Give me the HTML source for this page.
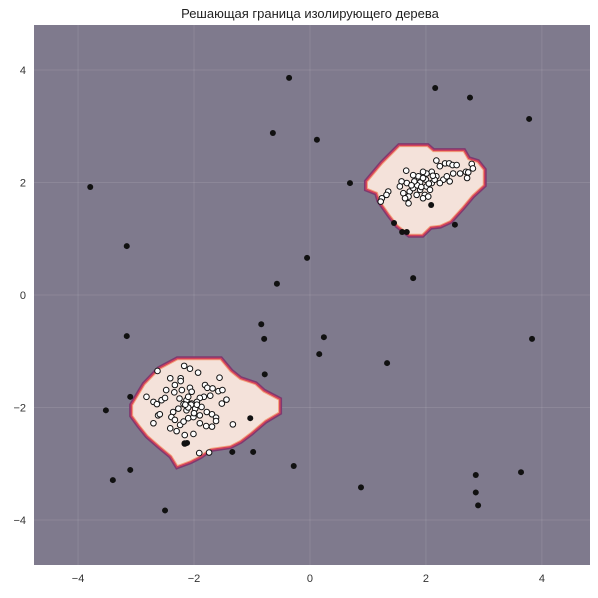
<!DOCTYPE html>
<html><head><meta charset="utf-8"><style>
body{margin:0;background:#fff;}
svg text{font-family:"Liberation Sans","DejaVu Sans",sans-serif;}
</style></head><body>
<svg id="chart" width="598" height="593">
<text x="310" y="18" text-anchor="middle" font-size="13" fill="#222">Решающая граница изолирующего дерева</text>
<g id="plot"></g>
</svg>
<script>
const xTicks=[-4,-2,0,2,4];
const yTicks=[-4,-2,0,2,4];
const regionUpper=[[1.00,2.01],[1.26,2.33],[1.55,2.63],[2.02,2.63],[2.12,2.54],[2.64,2.54],[2.72,2.40],[2.88,2.35],[2.98,2.22],[2.98,1.96],[2.79,1.78],[2.62,1.57],[2.41,1.33],[2.24,1.25],[2.07,1.23],[1.93,1.09],[1.72,1.09],[1.52,1.25],[1.38,1.44],[1.21,1.69],[1.17,1.83],[1.00,1.90]];
const regionLower=[[-3.05,-1.96],[-2.84,-1.60],[-2.59,-1.33],[-2.28,-1.16],[-1.55,-1.16],[-1.38,-1.37],[-1.21,-1.51],[-0.95,-1.60],[-0.81,-1.73],[-0.55,-1.87],[-0.55,-2.08],[-0.78,-2.22],[-1.03,-2.44],[-1.21,-2.58],[-1.38,-2.67],[-1.72,-2.72],[-1.90,-2.85],[-2.07,-2.94],[-2.28,-3.02],[-2.38,-2.85],[-2.59,-2.67],[-2.79,-2.49],[-2.93,-2.31],[-3.05,-2.14]];
const outliers=[[-0.36,3.86],[2.16,3.68],[2.76,3.51],[3.78,3.13],[-0.64,2.88],[0.12,2.76],[-3.79,1.92],[0.69,1.99],[-3.16,0.87],[-0.05,0.66],[-0.57,0.20],[2.50,1.25],[1.45,1.28],[1.67,1.12],[1.59,1.12],[1.78,0.30],[2.09,1.60],[-0.84,-0.52],[-0.79,-0.78],[0.24,-0.75],[-3.16,-0.73],[0.16,-1.05],[1.33,-1.21],[-0.78,-1.41],[-3.52,-2.05],[-3.10,-1.81],[-1.03,-2.19],[-0.98,-2.79],[-1.34,-2.79],[-0.28,-3.04],[-3.10,-3.11],[-3.40,-3.29],[-2.50,-3.83],[0.88,-3.42],[2.86,-3.20],[2.86,-3.51],[3.64,-3.15],[2.90,-3.74],[3.83,-0.78],[-2.12,-2.63],[-2.16,-2.64]];
const inliersX=[2.18,2.24,2.33,2.40,2.46,2.79,2.81,2.69,2.59,2.71,2.47,2.41,2.30,2.18,2.10,2.01,1.95,1.87,1.78,1.67,1.58,1.55,1.61,1.72,1.78,1.90,2.01,2.10,2.07,1.98,1.84,1.70,1.64,1.70,1.95,2.04,1.35,1.32,1.24,1.22,1.66,2.24,2.36,2.53,2.73,1.9,2.0,1.85,2.05,1.95,2.15,1.8,1.75,2.12,1.92,
-2.63,-2.17,-2.07,-1.93,-2.41,-2.23,-2.23,-1.56,-2.82,-2.70,-2.64,-2.56,-2.50,-2.48,-2.33,-2.34,-2.21,-2.07,-2.04,-1.81,-1.77,-1.68,-1.58,-1.51,-1.44,-1.52,-1.72,-1.83,-1.90,-1.95,-2.04,-2.13,-2.18,-2.27,-2.36,-2.39,-2.33,-2.24,-2.18,-2.10,-2.01,-1.90,-1.78,-1.69,-1.62,-1.62,-1.90,-1.79,-1.69,-1.33,-2.70,-2.62,-2.59,-2.41,-2.30,-2.16,-2.01,-2.16,-1.91,-1.74,-2.13,-1.98,-1.87,-2.25,-2.10,-2.05,-2.1,-1.95,-2.0,-2.15];
const inliersY=[2.39,2.29,2.34,2.34,2.31,2.33,2.25,2.19,2.16,2.08,2.16,2.02,2.05,2.11,2.19,2.16,2.19,2.11,2.13,1.99,2.02,1.93,1.81,1.84,1.90,1.87,1.93,1.99,1.87,1.78,1.78,1.75,1.72,1.63,1.72,1.75,1.84,1.78,1.72,1.66,2.21,1.99,2.11,2.31,2.18,2.0,2.05,1.95,1.98,2.08,2.05,2.02,1.95,2.12,1.92,
-1.35,-1.26,-1.31,-1.38,-1.48,-1.48,-1.53,-1.47,-1.81,-1.90,-1.94,-1.87,-1.83,-1.69,-1.60,-1.73,-1.69,-1.65,-1.72,-1.60,-1.65,-1.66,-1.71,-1.69,-1.86,-1.93,-1.79,-1.81,-1.83,-1.90,-1.93,-1.87,-1.94,-2.02,-2.08,-2.17,-2.22,-2.31,-2.25,-2.19,-2.17,-2.14,-2.08,-2.12,-2.18,-2.24,-2.28,-2.33,-2.34,-2.30,-2.28,-2.14,-2.12,-2.37,-2.42,-2.49,-2.47,-2.64,-2.81,-2.80,-2.05,-2.02,-1.99,-1.84,-1.81,-1.95,-2.0,-1.95,-2.1,-1.95];

const L=34,R=590,T=25,B=565,xmin=-4.76,xmax=4.83,ymin=-4.8,ymax=4.8;
const sx=v=>L+(v-xmin)/(xmax-xmin)*(R-L);
const sy=v=>B-(v-ymin)/(ymax-ymin)*(B-T);
const NS='http://www.w3.org/2000/svg';
const plot=document.getElementById('plot');
function mk(tag,attrs,parent){const e=document.createElementNS(NS,tag);for(const k in attrs)e.setAttribute(k,attrs[k]);(parent||plot).appendChild(e);return e;}
const bg=mk('rect',{x:L,y:T,width:R-L,height:B-T,fill:'#7f7a8d'});


xTicks.forEach(t=>{
  const g=mk('line',{x1:sx(t),x2:sx(t),y1:T,y2:B,stroke:'rgba(255,255,255,0.1)','stroke-width':1});
  
  
  const tx=mk('text',{x:sx(t),y:B+17,'text-anchor':'middle','font-size':11,fill:'#333'});
  tx.textContent=t<0?'−'+Math.abs(t):String(t);
  
  
});
yTicks.forEach(t=>{
  const g=mk('line',{x1:L,x2:R,y1:sy(t),y2:sy(t),stroke:'rgba(255,255,255,0.1)','stroke-width':1});
  
  
  const tx=mk('text',{x:L-8,y:sy(t)+4,'text-anchor':'end','font-size':11,fill:'#333'});
  tx.textContent=t<0?'−'+Math.abs(t):String(t);
  
  
});
[[regionUpper,'inlier-region-upper'],[regionLower,'inlier-region-lower']].forEach(([poly,name])=>{
  const pts=poly.map(p=>sx(p[0])+','+sy(p[1])).join(' ');
  const g=mk('g',{});
  
  
  mk('polygon',{points:pts,fill:'#7e3a70',stroke:'#7e3a70','stroke-width':8,'stroke-linejoin':'miter'},g);
  mk('polygon',{points:pts,fill:'#d4415a',stroke:'#d4415a','stroke-width':5,'stroke-linejoin':'miter'},g);
  mk('polygon',{points:pts,fill:'#f2a37c',stroke:'#f2a37c','stroke-width':2,'stroke-linejoin':'miter'},g);
  mk('polygon',{points:pts,fill:'#f4e2da'},g);
});
inliersX.forEach((x,i)=>{
  const c=mk('circle',{cx:sx(x),cy:sy(inliersY[i]),r:2.8,fill:'#fff',stroke:'#111','stroke-width':1});
  
  
});
outliers.forEach(p=>{
  const c=mk('circle',{cx:sx(p[0]),cy:sy(p[1]),r:3,fill:'#111'});
  
  
});
</script>
</body></html>
